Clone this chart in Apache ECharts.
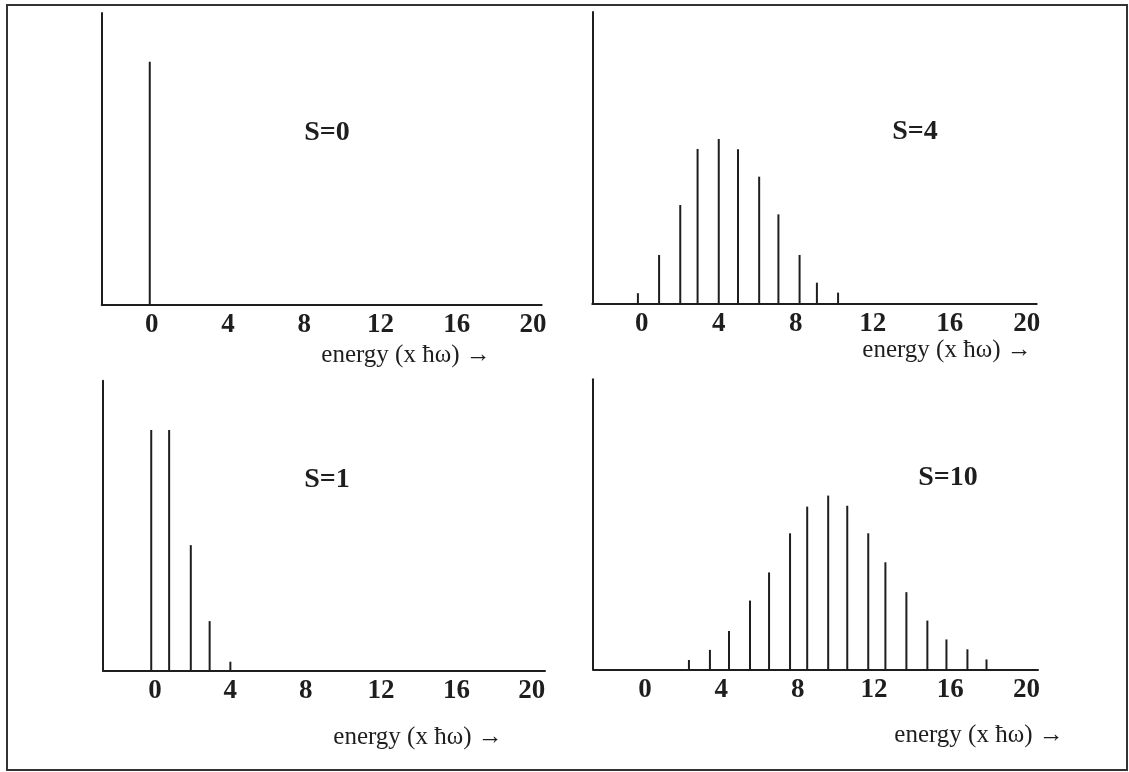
<!DOCTYPE html>
<html>
<head>
<meta charset="UTF-8">
<title>Poisson stick spectra</title>
<script src="https://cdn.jsdelivr.net/npm/echarts@6/dist/echarts.min.js"></script>
<style>
    body { margin: 0; background: #fff; }
    #chart { width: 1129px; height: 772px; }
</style>
</head>
<body>
<div id="chart"></div>
<script>
// stick positions (energy, x hbar-omega) and heights (% of axis height)
const s0X = [-0.1];
const s0Y = [83.3];
const s4X = [-0.2, 0.9, 2.0, 2.9, 4.0, 5.0, 6.1, 7.1, 8.2, 9.1, 10.2];
const s4Y = [3.7, 16.8, 33.9, 53.1, 56.5, 53.0, 43.6, 30.7, 16.8, 7.3, 3.9];
const s1X = [-0.2, 0.75, 1.9, 2.9, 4.0];
const s1Y = [83.0, 83.0, 43.3, 17.1, 3.1];
const s10X = [2.3, 3.4, 4.4, 5.5, 6.5, 7.6, 8.5, 9.6, 10.6, 11.7, 12.6, 13.7, 14.8, 15.8, 16.9, 17.9];
const s10Y = [3.2, 6.7, 13.2, 23.7, 33.4, 46.9, 56.1, 59.9, 56.4, 46.9, 36.9, 26.6, 16.8, 10.3, 6.9, 3.4];
const tickValues = [0, 4, 8, 12, 16, 20];
const panelNames = ['S=0', 'S=4', 'S=1', 'S=10'];
const xLabel = 'energy (x ħω) →';

const panels = [
    { xs: s0X, ys: s0Y, left: 101.7, top: 13, w: 440, h: 292, min: -2.62, max: 20.45, name: [327, 133], lab: [406, 355] },
    { xs: s4X, ys: s4Y, left: 592.3, top: 12, w: 444.4, h: 292, min: -2.57, max: 20.52, name: [915, 132], lab: [947, 350] },
    { xs: s1X, ys: s1Y, left: 103, top: 380.7, w: 442, h: 290, min: -2.76, max: 20.7, name: [327, 480], lab: [418, 737] },
    { xs: s10X, ys: s10Y, left: 593, top: 379.3, w: 445, h: 290, min: -2.73, max: 20.6, name: [948, 478], lab: [979, 735] }
];

const serif = '"Liberation Serif", "DejaVu Serif", serif';
const ink = '#1e1e1e';

const grid = [], xAxis = [], yAxis = [], series = [], graphic = [];
panels.forEach((p, i) => {
    grid.push({ left: p.left, top: p.top, width: p.w, height: p.h });
    xAxis.push({
        type: 'value', gridIndex: i, min: p.min, max: p.max,
        axisLine: { show: true, onZero: false, lineStyle: { color: ink, width: 2 } },
        axisTick: { show: false },
        splitLine: { show: false },
        axisLabel: {
            customValues: tickValues, margin: 7,
            fontFamily: serif, fontWeight: 'bold', fontSize: 27, color: ink
        }
    });
    yAxis.push({
        type: 'value', gridIndex: i, min: 0, max: 100,
        axisLine: { show: true, onZero: false, lineStyle: { color: ink, width: 2 } },
        axisTick: { show: false }, axisLabel: { show: false }, splitLine: { show: false }
    });
    series.push({
        type: 'bar', xAxisIndex: i, yAxisIndex: i, barWidth: 2,
        itemStyle: { color: ink },
        silent: true,
        data: p.xs.map((x, k) => [x, p.ys[k]])
    });
    graphic.push({
        type: 'text', x: p.name[0], y: p.name[1],
        style: { text: panelNames[i], fontFamily: serif, fontWeight: 'bold', fontSize: 28,
                 fill: ink, textAlign: 'center', textVerticalAlign: 'middle' }
    });
    graphic.push({
        type: 'text', x: p.lab[0], y: p.lab[1],
        style: { text: xLabel, fontFamily: serif, fontSize: 25,
                 fill: ink, textAlign: 'center', textVerticalAlign: 'middle' }
    });
});

// outer frame of the figure
graphic.push({
    type: 'rect', shape: { x: 7, y: 5, width: 1120, height: 765 },
    style: { fill: 'none', stroke: '#333', lineWidth: 2 }
});

const chart = echarts.init(document.getElementById('chart'));
chart.setOption({
    animation: false,
    grid: grid,
    xAxis: xAxis,
    yAxis: yAxis,
    series: series,
    graphic: graphic
});
</script>
</body>
</html>
